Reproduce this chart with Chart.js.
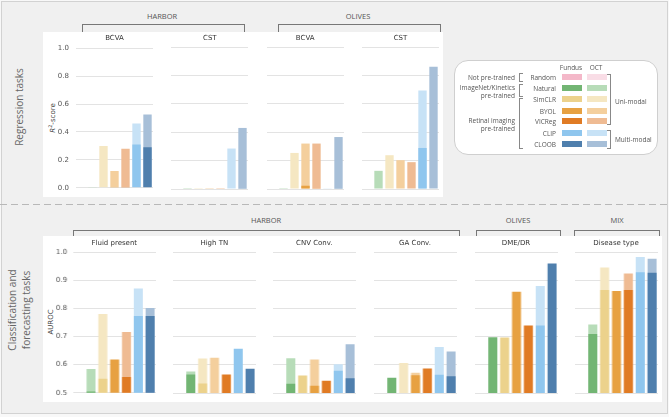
<!DOCTYPE html>
<html>
<head>
<meta charset="utf-8">
<script src="https://cdn.jsdelivr.net/npm/chart.js@4"></script>
<style>
body{margin:0;width:669px;height:417px;background:#f8f8f8;position:relative;overflow:hidden;font-family:"Open Sans",sans-serif;color:#555}
.frame{position:absolute;left:1px;top:1px;width:665px;height:411px;background:#f0f0f0;border:1px solid #d2d2d2}
.white{position:absolute;background:#fff}
.lbl{position:absolute;white-space:nowrap;transform:translate(-50%,-50%)}
.rl{position:absolute;white-space:nowrap;transform:translate(-100%,-50%);text-align:right}
.ll{position:absolute;white-space:nowrap;transform:translate(0,-50%)}
.br{position:absolute;border:1px solid #777;border-bottom:none}
.title{font-family:"DejaVu Sans",sans-serif;font-size:7px;color:#333}
.grp{font-size:7.5px;color:#555}
.rot{position:absolute;transform:translate(-50%,-50%) rotate(-90deg);white-space:nowrap;text-align:center}
.leg{font-size:6.5px;color:#555}
.sw{position:absolute;width:20px;height:6px}
.lbk{position:absolute;border:1px solid #888;border-right:none;width:3px}
.rbk{position:absolute;border:1px solid #888;border-left:none;width:3px}
</style>
</head>
<body>
<div class="frame"></div>
<div style="position:absolute;left:0;top:204px;width:669px;height:1px;background:repeating-linear-gradient(to right,#b8b8b8 0 7px,transparent 7px 11px)"></div>

<!-- group brackets -->
<div class="br" style="left:82px;top:24px;width:161px;height:10px"></div>
<div class="br" style="left:278px;top:24px;width:161px;height:10px"></div>
<div class="br" style="left:73px;top:230px;width:385px;height:10px"></div>
<div class="br" style="left:476px;top:230px;width:83px;height:10px"></div>
<div class="br" style="left:574px;top:230px;width:84px;height:10px"></div>
<div class="lbl grp" style="left:162px;top:16px">HARBOR</div>
<div class="lbl grp" style="left:358px;top:16px">OLIVES</div>
<div class="lbl grp" style="left:266px;top:220px">HARBOR</div>
<div class="lbl grp" style="left:518px;top:220px">OLIVES</div>
<div class="lbl grp" style="left:617px;top:220px">MIX</div>

<div class="white" style="left:43px;top:32px;width:400px;height:165px"></div>
<div class="white" style="left:43px;top:236px;width:619px;height:166px"></div>

<div class="rot" style="left:19px;top:107px;font-size:10px;color:#666">Regression tasks</div>
<div class="rot" style="left:19px;top:310px;font-size:10px;color:#666;line-height:13.5px">Classification and<br>forecasting tasks</div>
<div class="rot title" style="left:52px;top:118px;color:#444"><i>R</i><sup style="font-size:5px">2</sup>-score</div>
<div class="rot title" style="left:51px;top:322px;color:#444">AUROC</div>

<!-- legend -->
<div style="position:absolute;left:454px;top:60px;width:202px;height:93px;background:#fff;border:1px solid #cfcfcf;border-radius:14px"></div>

<script>
// model order inside every panel
const models = ['Random', 'Natural', 'SimCLR', 'BYOL', 'VICReg', 'CLIP', 'CLOOB'];
const fundusColors = ['#f4b8c9', '#72b573', '#ecd28c', '#e7a142', '#e07b24', '#8fc6ee', '#4f7fad'];
const octColors = ['#f9dde6', '#b7dcb8', '#f5e7c2', '#f4cf9d', '#efbb93', '#c7e2f6', '#a7bfd8'];

// regression tasks (R2-score)
const regTitles = ['BCVA', 'CST', 'BCVA', 'CST'];
const harborBcvaFundus = [null, null, null, 0.006, 0.005, 0.31, 0.29];
const harborBcvaOct = [null, 0.006, 0.30, 0.12, 0.28, 0.46, 0.525];
const harborCstFundus = [null, 0.005, 0.005, 0.005, 0.005, null, 0.005];
const harborCstOct = [null, null, null, null, null, 0.285, 0.43];
const olivesBcvaFundus = [null, 0.005, null, 0.023, 0.005, null, 0.005];
const olivesBcvaOct = [null, null, 0.254, 0.32, 0.32, 0.005, 0.366];
const olivesCstFundus = [null, null, null, null, null, 0.289, null];
const olivesCstOct = [null, 0.128, 0.238, 0.203, 0.189, 0.693, 0.861];

// classification / forecasting tasks (AUROC)
const clsTitles = ['Fluid present', 'High TN', 'CNV Conv.', 'GA Conv.', 'DME/DR', 'Disease type'];
const fluidFundus = [null, 0.505, 0.55, 0.618, 0.556, 0.773, 0.773];
const fluidOct = [null, 0.585, 0.78, null, 0.716, 0.871, 0.802];
const highTnFundus = [null, 0.566, 0.534, null, 0.566, 0.657, 0.586];
const highTnOct = [null, 0.576, 0.622, 0.625, null, null, null];
const cnvFundus = [null, 0.533, 0.562, 0.526, 0.543, 0.579, 0.552];
const cnvOct = [null, 0.623, null, 0.619, null, 0.602, 0.673];
const gaFundus = [null, 0.554, null, 0.563, 0.587, 0.565, 0.559];
const gaOct = [null, null, 0.606, 0.572, null, 0.663, 0.647];
const dmeFundus = [null, 0.698, 0.697, 0.859, 0.739, 0.739, 0.959];
const dmeOct = [null, null, null, null, null, 0.879, null];
const diseaseFundus = [null, 0.709, 0.865, 0.862, 0.865, 0.928, 0.926];
const diseaseOct = [null, 0.743, 0.945, null, 0.924, 0.982, 0.976];

const regMin = 0, regMax = 1, regStep = 0.2;
const clsMin = 0.5, clsMax = 1, clsStep = 0.1;

function addText(cls, x, y, txt) {
	let d = document.createElement('div');
	d.className = cls;
	d.style.left = x + 'px';
	d.style.top = y + 'px';
	d.textContent = txt;
	document.body.appendChild(d);
	return d;
}

function panel(left, top, w, h, axisW, fundus, oct, min, max, step, tickPad) {
	let c = document.createElement('canvas');
	c.width = w; c.height = h;
	c.style.cssText = 'position:absolute;left:' + left + 'px;top:' + top + 'px;width:' + w + 'px;height:' + h + 'px';
	document.body.appendChild(c);
	new Chart(c, {
		type: 'bar',
		data: {
			labels: models,
			datasets: [
				// first dataset is drawn on top
				{label: 'Fundus', data: fundus, backgroundColor: fundusColors, grouped: false, barPercentage: 0.76, categoryPercentage: 1},
				{label: 'OCT', data: oct, backgroundColor: octColors, grouped: false, barPercentage: 0.76, categoryPercentage: 1}
			]
		},
		options: {
			responsive: false,
			animation: false,
			devicePixelRatio: 1,
			layout: {padding: {top: 10, bottom: 10, left: 0, right: 0}},
			plugins: {legend: {display: false}, tooltip: {enabled: false}},
			scales: {
				x: {display: false},
				y: {
					min: min, max: max,
					border: {display: false},
					grid: {color: '#e3e3e3', drawTicks: false},
					ticks: {
						display: axisW > 0, stepSize: step, padding: tickPad, color: '#555',
						font: {family: 'DejaVu Sans', size: 7},
						callback: v => v.toFixed(1)
					},
					afterFit: s => { s.width = axisW; }
				}
			}
		}
	});
}

// top row
const regFundus = [harborBcvaFundus, harborCstFundus, olivesBcvaFundus, olivesCstFundus];
const regOct = [harborBcvaOct, harborCstOct, olivesBcvaOct, olivesCstOct];
const regLeft = [76, 171.3, 266.7, 362];
for (let i = 0; i < 4; i++) {
	let axisW = i == 0 ? 33 : 0;
	panel(regLeft[i] - axisW, 37, 77 + axisW, 162, axisW, regFundus[i], regOct[i], regMin, regMax, regStep, 7);
	addText('lbl title', regLeft[i] + 38.5, 38, regTitles[i]);
}

// bottom row
const clsFundus = [fluidFundus, highTnFundus, cnvFundus, gaFundus, dmeFundus, diseaseFundus];
const clsOct = [fluidOct, highTnOct, cnvOct, gaOct, dmeOct, diseaseOct];
const clsLeft = [73.3, 173.3, 273.3, 374, 475, 575];
for (let i = 0; i < 6; i++) {
	let axisW = i == 0 ? 30 : 0;
	panel(clsLeft[i] - axisW, 242, 82.5 + axisW, 161, axisW, clsFundus[i], clsOct[i], clsMin, clsMax, clsStep, 6);
	addText('lbl title', clsLeft[i] + 41, 243, clsTitles[i]);
}

// legend
const legRows = [76.7, 88.3, 99.3, 110.7, 121.3, 132.7, 144];
addText('lbl leg', 571, 66.7, 'Fundus');
addText('lbl leg', 596, 66.7, 'OCT');
for (let i = 0; i < models.length; i++) {
	addText('rl leg', 556, legRows[i], models[i]);
	let a = document.createElement('div');
	a.className = 'sw';
	a.style.cssText = 'left:562px;top:' + (legRows[i] - 3) + 'px;background:' + fundusColors[i];
	document.body.appendChild(a);
	let b = document.createElement('div');
	b.className = 'sw';
	b.style.cssText = 'left:586.5px;top:' + (legRows[i] - 3) + 'px;background:' + octColors[i];
	document.body.appendChild(b);
}
addText('rl leg', 515, 76.7, 'Not pre-trained');
addText('rl leg', 515, 86.7, 'ImageNet/Kinetics');
addText('rl leg', 515, 94.7, 'pre-trained');
addText('rl leg', 515, 119.5, 'Retinal imaging');
addText('rl leg', 515, 127.5, 'pre-trained');
addText('ll leg', 615, 101, 'Uni-modal');
addText('ll leg', 615, 139, 'Multi-modal');

function bracket(cls, x, y1, y2) {
	let d = document.createElement('div');
	d.className = cls;
	d.style.cssText = 'left:' + x + 'px;top:' + y1 + 'px;height:' + (y2 - y1) + 'px';
	document.body.appendChild(d);
}
bracket('lbk', 519, 73, 80);
bracket('lbk', 519, 84, 95);
bracket('lbk', 519, 98, 147);
bracket('rbk', 607, 74, 123);
bracket('rbk', 607, 130, 147);
</script>
</body>
</html>
